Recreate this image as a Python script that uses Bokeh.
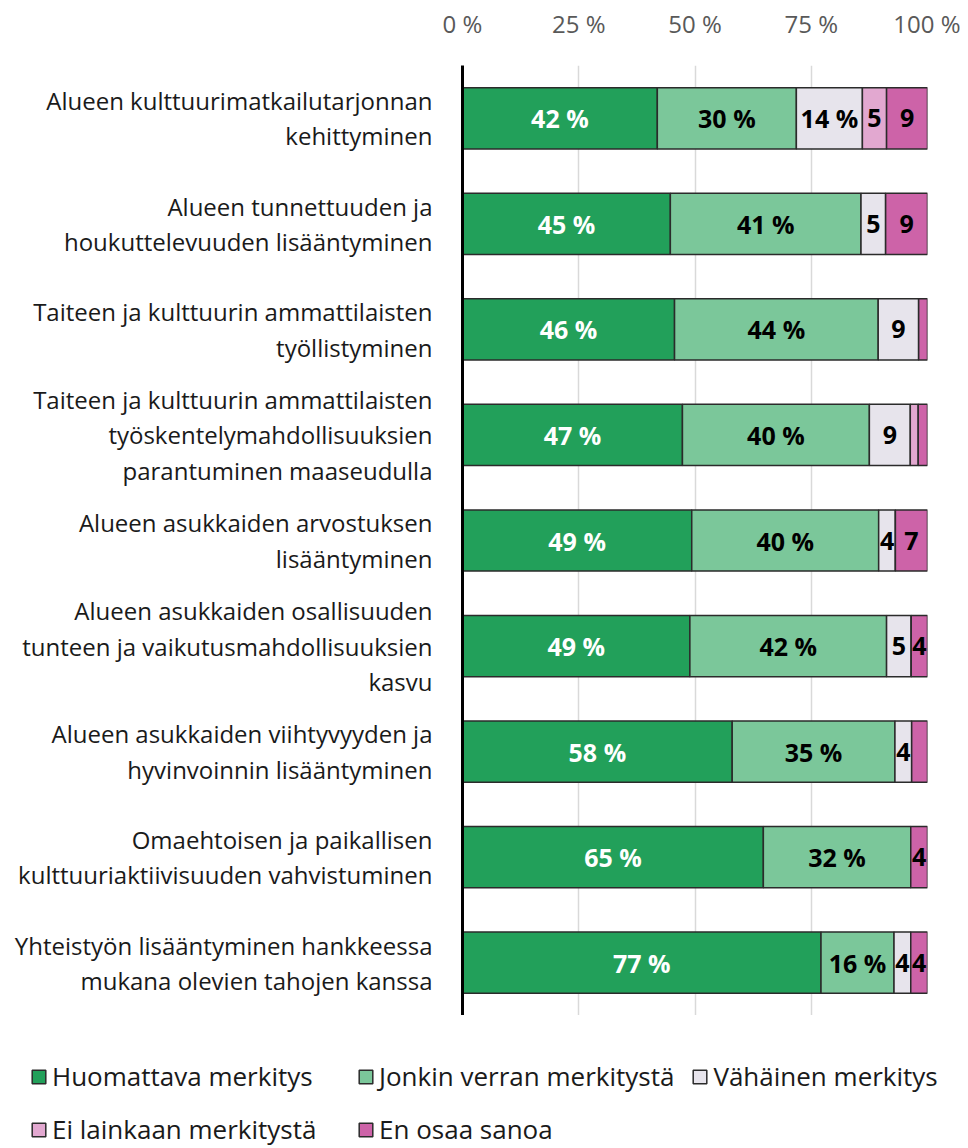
from bokeh.plotting import figure
from bokeh.layouts import column
from bokeh.models import ColumnDataSource, FactorRange, Range1d, Legend, LegendItem, FixedTicker
from bokeh.core.properties import value
from bokeh.embed import file_html
from bokeh.resources import INLINE

categories = [
    "Alueen kulttuurimatkailutarjonnan\nkehittyminen",
    "Alueen tunnettuuden ja\nhoukuttelevuuden lisääntyminen",
    "Taiteen ja kulttuurin ammattilaisten\ntyöllistyminen",
    "Taiteen ja kulttuurin ammattilaisten\ntyöskentelymahdollisuuksien\nparantuminen maaseudulla",
    "Alueen asukkaiden arvostuksen\nlisääntyminen",
    "Alueen asukkaiden osallisuuden\ntunteen ja vaikutusmahdollisuuksien\nkasvu",
    "Alueen asukkaiden viihtyvyyden ja\nhyvinvoinnin lisääntyminen",
    "Omaehtoisen ja paikallisen\nkulttuuriaktiivisuuden vahvistuminen",
    "Yhteistyön lisääntyminen hankkeessa\nmukana olevien tahojen kanssa",
]
huomattava = [41.9, 44.7, 45.6, 47.3, 49.3, 48.9, 58.0, 64.7, 77.1]
jonkin_verran = [29.9, 41.0, 43.8, 40.2, 40.2, 42.3, 35.0, 31.7, 15.7]
vahainen = [14.2, 5.3, 8.7, 8.8, 3.6, 5.3, 3.6, 0.0, 3.6]
ei_lainkaan = [5.2, 0.0, 0.0, 1.7, 0.0, 0.0, 0.0, 0.0, 0.0]
en_osaa = [8.8, 9.0, 1.9, 2.0, 6.9, 3.5, 3.4, 3.6, 3.6]

series_names = ["Huomattava merkitys", "Jonkin verran merkitystä", "Vähäinen merkitys",
                "Ei lainkaan merkitystä", "En osaa sanoa"]
series_keys = ["huomattava", "jonkin", "vahainen", "ei", "en"]
series_values = [huomattava, jonkin_verran, vahainen, ei_lainkaan, en_osaa]
colors = ["#22a05a", "#7bc79a", "#e7e4ec", "#e2a8d0", "#cd63a8"]
label_colors = ["white", "black", "black", "black", "black"]
tick_values = [0, 25, 50, 75, 100]
tick_labels = ["0 %", "25 %", "50 %", "75 %", "100 %"]

FONT = "Open Sans"
EDGE = "#2b2b2b"

data = {"cat": categories}
for k, v in zip(series_keys, series_values):
    data[k] = v
source = ColumnDataSource(data)

p = figure(width=960, height=1015, y_range=FactorRange(*reversed(categories), range_padding=0),
           x_range=Range1d(0, 100), x_axis_location="above",
           output_backend="svg", toolbar_location=None,
           min_border_left=462, min_border_right=33, min_border_top=65, min_border_bottom=0)
p.outline_line_color = None

renderers = p.hbar_stack(series_keys, y="cat", height=0.58, color=colors, source=source,
                         line_color=EDGE, line_width=1.5)

# segment labels
lx, ly, lt, lc = [], [], [], []
for i, cat in enumerate(categories):
    left = 0.0
    for s, vals in enumerate(series_values):
        v = vals[i]
        if v >= 3.5:
            r = round(v)
            lx.append(left + v / 2)
            ly.append(cat)
            lt.append(f"{r} %" if v >= 9.5 else f"{r}")
            lc.append(label_colors[s])
        left += v
lsrc = ColumnDataSource(dict(x=lx, y=ly, t=lt, c=lc))
p.text(x="x", y="y", text="t", source=lsrc, text_color="c", text_align="center",
       text_baseline="middle", text_font=value(FONT), text_font_style="bold",
       text_font_size="25px")

# axes
xa = p.xaxis[0]
xa.ticker = FixedTicker(ticks=tick_values)
xa.major_label_overrides = {t: l for t, l in zip(tick_values, tick_labels)}
xa.axis_line_color = None
xa.major_tick_line_color = None
xa.minor_tick_line_color = None
xa.major_label_text_font = FONT
xa.major_label_text_font_size = "24px"
xa.major_label_text_color = "#595959"
xa.major_label_standoff = 20

ya = p.yaxis[0]
ya.axis_line_color = "black"
ya.axis_line_width = 3
ya.major_tick_line_color = None
ya.minor_tick_line_color = None
ya.major_label_text_font = FONT
ya.major_label_text_font_size = "24px"
ya.major_label_text_line_height = 1.07
ya.major_label_text_color = "#1a1a1a"
ya.major_label_standoff = 24

p.xgrid.ticker = FixedTicker(ticks=tick_values)
p.xgrid.grid_line_color = "#d9d9d9"
p.xgrid.grid_line_width = 1.5
p.ygrid.grid_line_color = None

# legend panel: same stacked bars on ranges that do not show them, only to supply legend glyphs
leg = figure(width=960, height=132, x_range=Range1d(101, 200),
             y_range=FactorRange(*series_names),
             output_backend="svg", toolbar_location=None,
             min_border_left=0, min_border_right=0, min_border_top=0, min_border_bottom=0)
leg.axis.visible = False
leg.grid.visible = False
leg.outline_line_color = None
leg_renderers = leg.hbar_stack(series_keys, y="cat", height=0.58, color=colors, source=source,
                               line_color=EDGE, line_width=1.5)
try:
    p.frame_align = False
    leg.frame_align = False
except Exception:
    pass

legend = Legend(items=[LegendItem(label=n, renderers=[r]) for n, r in zip(series_names, leg_renderers)],
                orientation="horizontal", ncols=3, location=(30, 0),
                label_text_font=FONT, label_text_font_size="26px", label_text_color="#1a1a1a",
                glyph_width=17, glyph_height=17, label_standoff=5, spacing=17,
                label_width=288, label_height=28,
                border_line_color=None, background_fill_alpha=0, padding=0, margin=0)
leg.add_layout(legend, "center")

layout = column(p, leg, spacing=0)
open("out.html", "w").write(file_html(layout, INLINE))
